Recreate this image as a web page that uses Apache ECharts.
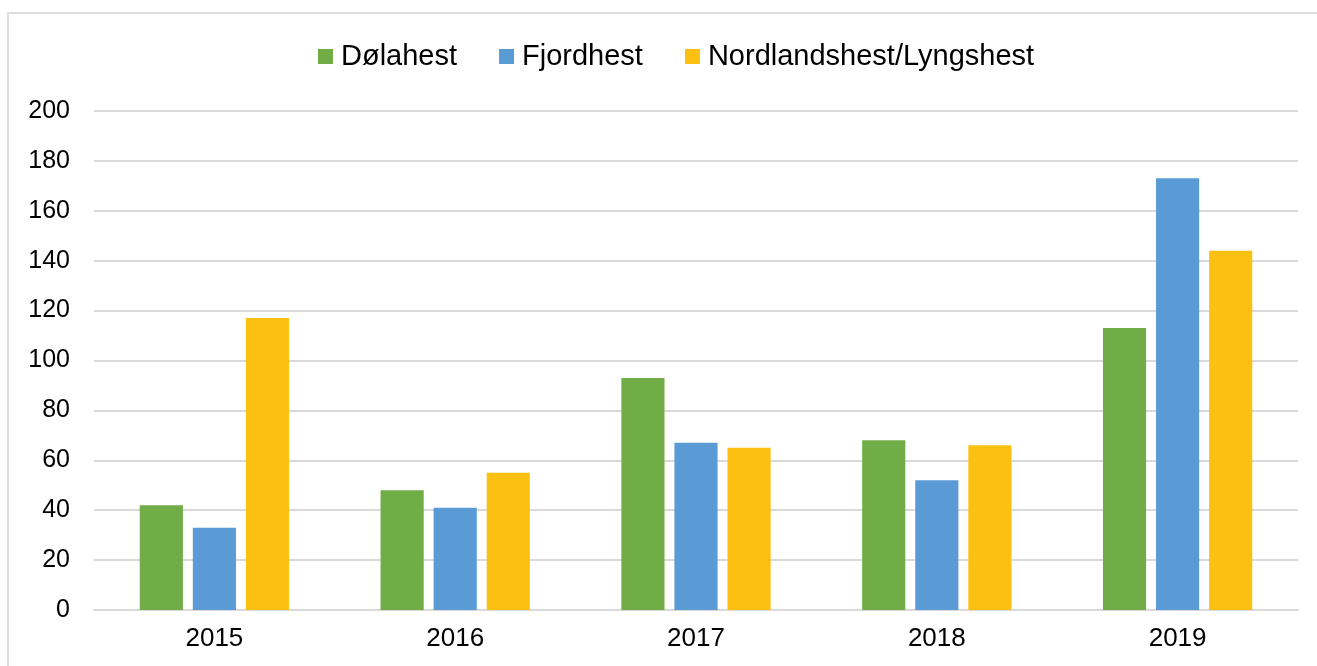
<!DOCTYPE html>
<html>
<head>
<meta charset="utf-8">
<script src="https://cdn.jsdelivr.net/npm/echarts@6/dist/echarts.min.js"></script>
<style>
html,body{margin:0;padding:0;background:#fff;}
#chart{width:1317px;height:666px;}
</style>
</head>
<body>
<div id="chart"></div>
<script>
const categories = ['2015', '2016', '2017', '2018', '2019'];
const seriesNames = ['Dølahest', 'Fjordhest', 'Nordlandshest/Lyngshest'];
const dolahest = [42, 48, 93, 68, 113];
const fjordhest = [33, 41, 67, 52, 173];
const nordland = [117, 55, 65, 66, 144];
const colors = ['#70ad47', '#5b9bd5', '#fcc012'];
const yTicks = { min: 0, max: 200, interval: 20 };

const chart = echarts.init(document.getElementById('chart'));
const font = 'Liberation Sans, Arial, sans-serif';
const values = [dolahest, fjordhest, nordland];
chart.setOption({
  animation: false,
  backgroundColor: '#fff',
  graphic: [{
    type: 'rect', silent: true, z: -1,
    shape: { x: 8, y: 13, width: 1330, height: 700 },
    style: { fill: 'none', stroke: '#dedede', lineWidth: 2 }
  }],
  legend: {
    top: 37, left: 313,
    itemWidth: 15, itemHeight: 15, itemGap: 42,
    icon: 'rect',
    textStyle: { fontFamily: font, fontSize: 29, color: '#000', padding: [0, 0, 0, 3] },
    data: seriesNames
  },
  grid: { left: 94, right: 19, top: 111, bottom: 56, containLabel: false },
  xAxis: {
    type: 'category', data: categories,
    axisLine: { lineStyle: { color: '#d9d9d9', width: 2 } },
    axisTick: { show: false },
    axisLabel: { fontFamily: font, fontSize: 26, color: '#000', margin: 16 }
  },
  yAxis: {
    type: 'value', min: yTicks.min, max: yTicks.max, interval: yTicks.interval,
    axisLine: { show: false }, axisTick: { show: false },
    splitLine: { lineStyle: { color: '#d9d9d9', width: 2 } },
    axisLabel: { fontFamily: font, fontSize: 25, color: '#000', margin: 24 }
  },
  series: seriesNames.map((n, i) => ({
    name: n, type: 'bar', data: values[i],
    barGap: '23%', barCategoryGap: '38%',
    itemStyle: { color: colors[i] }
  }))
});
</script>
</body>
</html>
